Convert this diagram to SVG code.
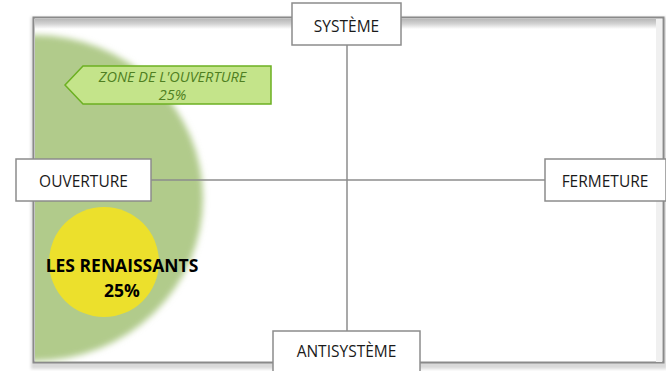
<svg xmlns="http://www.w3.org/2000/svg" width="666" height="371" viewBox="0 0 666 371">
<defs>
<style>
.box{fill:#fff;stroke:#8c8c8c;stroke-width:1.5}
.lbl{font-family:"Open Sans","Liberation Sans",sans-serif;font-size:15.5px;fill:#1a1a1a;text-anchor:middle}
.conn{stroke:#8c8c8c;stroke-width:1.5;fill:none}
</style>
<filter id="blur" x="-20%" y="-20%" width="140%" height="140%"><feGaussianBlur stdDeviation="3"/></filter>
<filter id="sh" x="-5%" y="-5%" width="110%" height="110%"><feGaussianBlur stdDeviation="1.5"/></filter>
<clipPath id="inner"><rect x="35" y="19" width="627" height="343"/></clipPath>
<linearGradient id="topband" x1="0" y1="0" x2="0" y2="1"><stop offset="0" stop-color="#b8b8b8"/><stop offset="0.5" stop-color="#d4d4d4"/><stop offset="1" stop-color="#ffffff"/></linearGradient>
</defs>
<rect width="666" height="371" fill="#fff"/>
<g id="frame">
<rect x="31" y="17" width="636" height="352" fill="#d9d9d9" filter="url(#sh)"/>
<rect x="33.5" y="17.5" width="630" height="345" fill="#fff" stroke="#8a8a8a" stroke-width="2"/>
<rect x="35" y="19" width="627" height="10" fill="url(#topband)"/>
<rect x="656" y="19" width="6" height="343" fill="#f0f0f0"/>
</g>
<g id="zone" clip-path="url(#inner)">
<ellipse cx="35" cy="198" rx="168" ry="163" fill="#b1cb8b" filter="url(#blur)"/>
</g>
<g id="renaissants">
<circle cx="104" cy="262" r="55" fill="#ece02c"/>
<text font-family="'Open Sans','Liberation Sans',sans-serif" font-weight="bold" font-size="17.5" fill="#000" text-anchor="middle"><tspan x="122" y="272">LES RENAISSANTS</tspan><tspan x="122" y="297">25%</tspan></text>
</g>
<g id="callout">
<path d="M65,85 L83,66 L271,66 L271,104 L83,104 Z" fill="#c4e48a" stroke="#6cb022" stroke-width="1.5"/>
<text font-family="'Open Sans','Liberation Sans',sans-serif" font-style="italic" font-size="14.5" fill="#4f7f22" text-anchor="middle"><tspan x="172.5" y="82">ZONE DE L'OUVERTURE</tspan><tspan x="172.5" y="100">25%</tspan></text>
</g>
<g id="connectors">
<line class="conn" x1="151" y1="180" x2="545" y2="180"/>
<line class="conn" x1="347" y1="45" x2="347" y2="331"/>
</g>
<g id="systeme">
<rect class="box" x="292" y="3" width="109" height="42"/>
<text class="lbl" x="346.5" y="32">SYSTÈME</text>
</g>
<g id="antisysteme">
<rect class="box" x="273" y="331" width="147" height="45"/>
<text class="lbl" x="346.5" y="357">ANTISYSTÈME</text>
</g>
<g id="ouverture">
<rect class="box" x="16" y="159" width="135" height="42"/>
<text class="lbl" x="83.5" y="187">OUVERTURE</text>
</g>
<g id="fermeture">
<rect class="box" x="545" y="159" width="121" height="42"/>
<text class="lbl" x="605" y="187">FERMETURE</text>
</g>
</svg>
